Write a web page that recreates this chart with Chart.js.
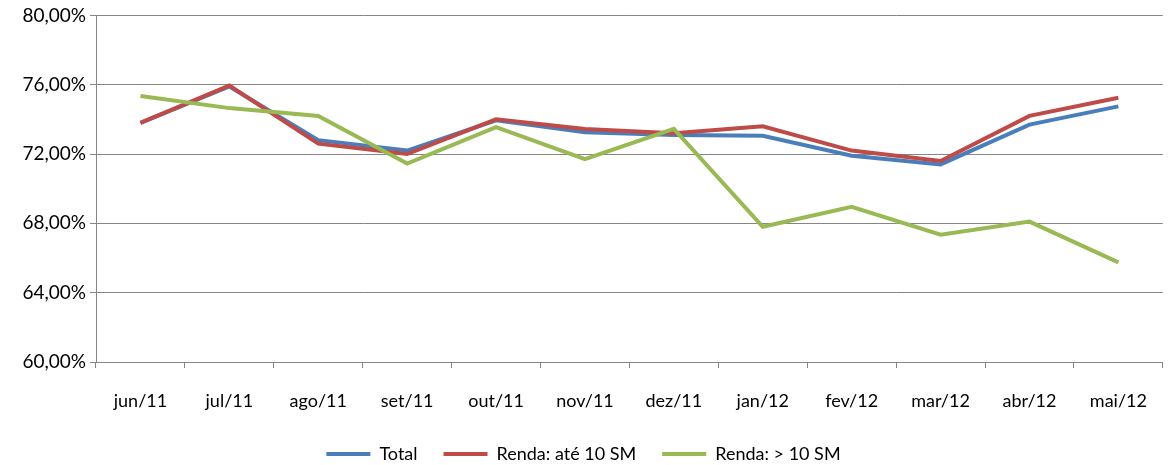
<!DOCTYPE html>
<html>
<head>
<meta charset="utf-8">
<script src="https://cdn.jsdelivr.net/npm/chart.js@4/dist/chart.umd.min.js"></script>
<style>
  body { margin: 0; background: #fff; }
  #wrap { width: 1169px; height: 465px; }
</style>
</head>
<body>
<div id="wrap"><canvas id="chart" width="1169" height="465"></canvas></div>
<script>
// dados
const meses = ['jun/11', 'jul/11', 'ago/11', 'set/11', 'out/11', 'nov/11', 'dez/11', 'jan/12', 'fev/12', 'mar/12', 'abr/12', 'mai/12'];
const total = [73.8, 75.9, 72.8, 72.2, 73.95, 73.25, 73.1, 73.05, 71.9, 71.4, 73.7, 74.75];
const ateDezSM = [73.8, 75.95, 72.6, 72.0, 74.0, 73.45, 73.2, 73.6, 72.2, 71.6, 74.2, 75.25];
const maisDezSM = [75.35, 74.65, 74.2, 71.45, 73.55, 71.7, 73.45, 67.8, 68.95, 67.35, 68.1, 65.75];
const yMin = 60;
const yMax = 80;
const yStep = 4;

const fonte = "Lato, 'Open Sans', sans-serif";
const cinza = '#868686';

function serie(label, data, cor, ordem) {
    return {
        label: label,
        data: data,
        borderColor: cor,
        backgroundColor: cor,
        borderWidth: 4,
        pointRadius: 0,
        tension: 0,
        order: ordem,
    };
}

const ctx = document.getElementById('chart').getContext('2d');

const chart = new Chart(ctx, {
    type: 'line',
    data: {
        labels: meses,
        datasets: [
            serie('Total', total, '#4A7EBB', 2),
            serie('Renda: até 10 SM', ateDezSM, '#BE4B48', 1),
            serie('Renda: > 10 SM', maisDezSM, '#98B954', 0),
        ],
    },
    options: {
        responsive: false,
        animation: false,
        layout: {
            padding: { top: 8, right: 2, left: 0, bottom: -8 },
        },
        plugins: {
            tooltip: { enabled: false },
            legend: {
                position: 'bottom',
                labels: {
                    font: { family: fonte, size: 18 },
                    color: '#000',
                    usePointStyle: true,
                    pointStyle: 'line',
                    pointStyleWidth: 44,
                    boxWidth: 44,
                    boxHeight: 4,
                    padding: 26,
                    sort: (a, b) => a.datasetIndex - b.datasetIndex,
                },
            },
        },
        scales: {
            x: {
                offset: true,
                border: { color: cinza, width: 1 },
                grid: {
                    offset: true,
                    drawOnChartArea: false,
                    color: cinza,
                    tickLength: 6,
                },
                ticks: {
                    font: { family: fonte, size: 18 },
                    color: '#000',
                    padding: 22,
                    maxRotation: 0,
                },
                afterFit: (scale) => { scale.height = 57; },
            },
            y: {
                min: yMin,
                max: yMax,
                border: { color: cinza, width: 1 },
                grid: {
                    color: cinza,
                    tickLength: 6,
                },
                ticks: {
                    stepSize: yStep,
                    font: { family: fonte, size: 19 },
                    color: '#000',
                    padding: 4,
                    callback: (v) => v.toFixed(2).replace('.', ',') + '%',
                },
                afterFit: (scale) => { scale.width = 96; },
            },
        },
    },
});
</script>
</body>
</html>
